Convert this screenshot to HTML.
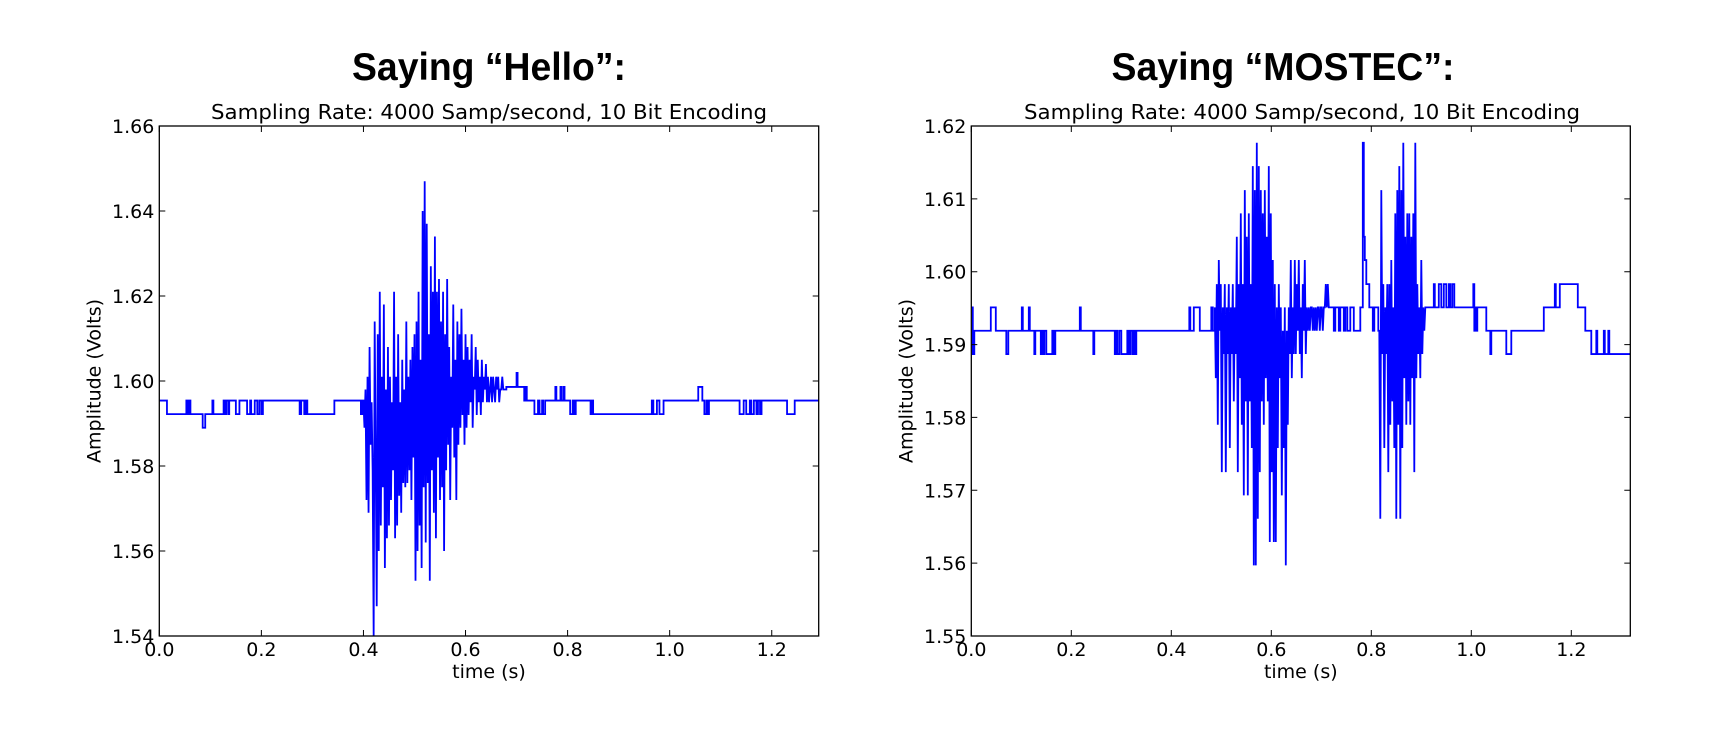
<!DOCTYPE html>
<html><head><meta charset="utf-8"><style>
html,body{margin:0;padding:0;background:#fff;}
svg{display:block;}
text{font-family:"DejaVu Sans","Liberation Sans",sans-serif;fill:#000;}
.ttl{font-family:"Liberation Sans",sans-serif;font-weight:bold;font-size:39px;}
</style></head><body>
<svg id="svg" width="1717" height="744" viewBox="0 0 1717 744" xmlns="http://www.w3.org/2000/svg">
<text class="ttl" x="489" y="80" text-anchor="middle" textLength="274" lengthAdjust="spacingAndGlyphs">Saying “Hello”:</text>
<text class="ttl" x="1283" y="80" text-anchor="middle" textLength="343" lengthAdjust="spacingAndGlyphs">Saying “MOSTEC”:</text>
<g id="c1"></g>
<g id="c2"></g>
</svg>
<script>
// ---- Hello chart data ----
const helloStepTimes = [0,0.015,0.053,0.055,0.058,0.061,0.085,0.090,0.104,0.106,0.126,0.128,0.131,0.135,0.137,0.150,0.157,0.172,0.178,0.180,0.187,0.192,0.196,0.200,0.203,0.275,0.278,0.284,0.287,0.290,0.343,0.395,0.398,
0.680,0.700,0.702,0.715,0.718,0.720,0.735,0.742,0.745,0.750,0.752,0.756,0.776,0.778,0.786,0.788,0.792,0.794,0.805,0.810,0.813,0.816,0.845,0.848,0.850,0.965,0.968,0.975,0.980,0.988,1.056,1.064,1.068,1.072,1.074,1.077,1.137,1.145,1.150,1.157,1.160,1.165,1.170,1.173,1.177,1.180,1.230,1.245];
const helloStepValues = [1.5954,1.5922,1.5954,1.5922,1.5954,1.5922,1.5890,1.5922,1.5954,1.5922,1.5954,1.5922,1.5954,1.5922,1.5954,1.5922,1.5954,1.5922,1.5954,1.5922,1.5954,1.5922,1.5954,1.5922,1.5954,1.5922,1.5954,1.5922,1.5954,1.5922,1.5954,1.5922,1.5954,
1.5986,1.6019,1.5986,1.5954,1.5986,1.5954,1.5922,1.5954,1.5922,1.5954,1.5922,1.5954,1.5986,1.5954,1.5986,1.5954,1.5986,1.5954,1.5922,1.5954,1.5922,1.5954,1.5922,1.5954,1.5922,1.5954,1.5922,1.5954,1.5922,1.5954,1.5986,1.5954,1.5922,1.5954,1.5922,1.5954,1.5922,1.5954,1.5922,1.5954,1.5922,1.5954,1.5922,1.5954,1.5922,1.5954,1.5922,1.5954];
const helloBurstStart = [0.400];
const helloBurstDt = [0.002];
const helloBurstValues = [
1.595,1.589,1.598,1.572,1.601,1.569,1.608,1.585,1.595,1.579,
1.540,1.614,1.582,1.547,1.611,1.560,1.621,1.566,1.601,1.575,
1.618,1.556,1.598,1.563,1.608,1.566,1.601,1.572,1.595,1.579,
1.621,1.563,1.601,1.566,1.611,1.573,1.595,1.569,1.605,1.576,
1.598,1.575,1.614,1.576,1.601,1.579,1.605,1.572,1.608,1.582,
1.611,1.553,1.614,1.560,1.621,1.566,1.605,1.556,1.640,1.575,
1.647,1.562,1.637,1.576,1.611,1.553,1.627,1.579,1.621,1.569,
1.634,1.563,1.621,1.582,1.624,1.572,1.614,1.575,1.621,1.560,
1.611,1.579,1.624,1.585,1.608,1.572,1.601,1.589,1.618,1.582,
1.605,1.572,1.614,1.585,1.611,1.589,1.617,1.592,1.605,1.585,
1.611,1.589,1.608,1.592,1.605,1.595,1.611,1.589,1.601,1.598,
1.608,1.592,1.605,1.595,1.601,1.592,1.605,1.595,1.601,1.598,
1.604,1.595,1.601,1.595,1.598,1.601,1.595,1.601,1.598,1.595,
1.601,1.598,1.601,1.595,1.598,1.598,1.601,1.598,1.598,1.598];
const helloXTicks = [0,0.2,0.4,0.6,0.8,1.0,1.2];
const helloXTickLabels = ["0.0","0.2","0.4","0.6","0.8","1.0","1.2"];
const helloYTicks = [1.54,1.56,1.58,1.60,1.62,1.64,1.66];
const helloYTickLabels = ["1.54","1.56","1.58","1.60","1.62","1.64","1.66"];
const helloXMax = [1.292];

// ---- MOSTEC chart data ----
const mostecStepTimes = [0,0.003,0.006,0.039,0.049,0.070,0.074,0.101,0.103,0.115,0.117,0.126,0.128,0.139,0.141,0.144,0.146,0.150,0.162,0.165,0.168,0.217,0.219,0.244,0.246,0.287,0.289,0.292,0.296,0.300,0.312,0.315,0.318,0.322,0.325,0.328,0.330,0.436,0.438,0.445,0.457,0.480,0.483,
0.718,0.725,0.728,0.735,0.738,0.745,0.748,0.752,0.758,0.765,0.778,0.783,0.785,0.787,0.790,0.796,0.803,0.806,0.814,
0.911,0.925,0.927,0.935,0.940,0.945,0.950,0.955,0.958,0.962,0.966,1.004,1.006,1.008,1.010,1.012,1.030,1.038,1.040,1.070,1.080,1.145,1.167,1.169,1.177,1.213,1.228,1.240,1.250,1.252,1.265,1.267,1.274,1.276];
const mostecStepValues = [1.5951,1.5887,1.5919,1.5951,1.5919,1.5887,1.5919,1.5951,1.5919,1.5951,1.5919,1.5887,1.5919,1.5887,1.5919,1.5887,1.5919,1.5887,1.5919,1.5887,1.5919,1.5951,1.5919,1.5887,1.5919,1.5887,1.5919,1.5887,1.5919,1.5887,1.5919,1.5887,1.5919,1.5887,1.5919,1.5887,1.5919,1.5951,1.5919,1.5951,1.5919,1.5951,1.5919,
1.5951,1.5919,1.5951,1.5919,1.5951,1.5919,1.5951,1.5919,1.5951,1.5919,1.5951,1.6177,1.6048,1.6016,1.5983,1.5951,1.5919,1.5951,1.5919,
1.5951,1.5983,1.5951,1.5983,1.5951,1.5983,1.5951,1.5983,1.5951,1.5983,1.5951,1.5983,1.5919,1.5951,1.5919,1.5951,1.5919,1.5887,1.5919,1.5887,1.5919,1.5951,1.5983,1.5951,1.5983,1.5951,1.5919,1.5887,1.5919,1.5887,1.5919,1.5887,1.5919,1.5887];
const mostecBurstStart = [0.487,0.816];
const mostecBurstDt = [0.002,0.002];
const mostecBurst1Values = [
1.5951,1.5854,1.5983,1.5790,1.6016,1.5919,1.5983,1.5725,1.5951,1.5887,
1.5983,1.5725,1.5951,1.5887,1.5983,1.5758,1.5951,1.5887,1.5983,1.5822,
1.5951,1.5887,1.6048,1.5725,1.5983,1.5854,1.6080,1.5790,1.5983,1.5693,
1.6112,1.5822,1.6048,1.5693,1.6080,1.5822,1.5983,1.5758,1.6145,1.5597,
1.6112,1.5597,1.6177,1.5661,1.6145,1.5725,1.6112,1.5822,1.6080,1.5790,
1.6112,1.5854,1.6048,1.5822,1.6145,1.5629,1.6080,1.5725,1.6016,1.5629,
1.5983,1.5629,1.5951,1.5758,1.5983,1.5854,1.5951,1.5693,1.5919,1.5758,
1.5951,1.5597,1.5919,1.5790,1.5951,1.5887,1.6016,1.5854,1.5951,1.5887,
1.6016,1.5887,1.5983,1.5919,1.6016,1.5887,1.5951,1.5854,1.5983,1.5919,
1.6016,1.5887,1.5951,1.5919,1.5951,1.5919,1.5951,1.5951,1.5919,1.5951,
1.5919,1.5951,1.5919,1.5951,1.5951,1.5919,1.5951,1.5951,1.5919,1.5951,
1.5951,1.5983,1.5951,1.5983,1.5951,1.5951];
const mostecBurst2Values = [
1.5919,1.5661,1.6112,1.5887,1.5983,1.5758,1.5951,1.5887,1.5983,1.5725,
1.5983,1.5790,1.6016,1.5822,1.5951,1.5758,1.6080,1.5661,1.6112,1.5790,
1.6145,1.5661,1.6112,1.5758,1.6177,1.5854,1.6048,1.5790,1.6080,1.5822,
1.6080,1.5790,1.6048,1.5854,1.6080,1.5725,1.6177,1.5854,1.5983,1.5887,
1.5951,1.5854,1.6016,1.5887,1.5951,1.5919,1.5951,1.5951];
const mostecXTicks = [0,0.2,0.4,0.6,0.8,1.0,1.2];
const mostecXTickLabels = ["0.0","0.2","0.4","0.6","0.8","1.0","1.2"];
const mostecYTicks = [1.55,1.56,1.57,1.58,1.59,1.60,1.61,1.62];
const mostecYTickLabels = ["1.55","1.56","1.57","1.58","1.59","1.60","1.61","1.62"];
const mostecXMax = [1.318];

const NS = "http://www.w3.org/2000/svg";
function mk(tag, parent, attrs){
  const e = document.createElementNS(NS, tag);
  for (const k in attrs) e.setAttribute(k, attrs[k]);
  parent.appendChild(e);
  return e;
}

function buildPoints(stepT, stepV, bursts, xmax){
  const pts = [];
  const ranges = bursts.map(b => [b.start, b.start + (b.vals.length-1)*b.dt]);
  function inBurst(t){ return ranges.some(r => t >= r[0] && t <= r[1]); }
  const events = [];
  for (let i=0;i<stepT.length;i++){
    if (!inBurst(stepT[i])) events.push({t:stepT[i], v:stepV[i], step:true});
  }
  bursts.forEach(b => { b.vals.forEach((v,i)=>events.push({t:b.start+i*b.dt, v:v, step:false})); });
  events.sort((a,b)=>a.t-b.t);
  let prev = null;
  events.forEach(ev => {
    if (prev !== null && (ev.step || prev.step)) pts.push([ev.t, prev.v]);
    pts.push([ev.t, ev.v]);
    prev = ev;
  });
  pts.push([xmax, prev.v]);
  return pts;
}

function drawChart(g, cfg){
  const L=cfg.left, R=cfg.right, T=126, B=636;
  const xs = t => L + (t - 0)/(cfg.xmax) * (R-L);
  const ys = v => B - (v - cfg.ymin)/(cfg.ymax-cfg.ymin) * (B-T);
  const st = mk('text', g, {x:cfg.subX, y:119, 'text-anchor':'middle', 'font-size':'20', textLength:'556', lengthAdjust:'spacingAndGlyphs'});
  
  
  st.textContent = 'Sampling Rate: 4000 Samp/second, 10 Bit Encoding';
  const pts = buildPoints(cfg.stepT, cfg.stepV, cfg.bursts, cfg.xmax);
  const pl = mk('polyline', g, {points: pts.map(p=>xs(p[0]).toFixed(2)+','+ys(p[1]).toFixed(2)).join(' '), fill:'none', stroke:'#0000ff', 'stroke-width':'1.8', 'stroke-linejoin':'miter'});
  
  
  const fr = mk('rect', g, {x:L, y:T, width:R-L, height:B-T, fill:'none', stroke:'#000', 'stroke-width':'1.3'});
  
  
  cfg.xticks.forEach((t,i)=>{
    const x = xs(t);
    const tk = mk('path', g, {d:`M${x},${B}v-6M${x},${T}v6`, stroke:'#000', 'stroke-width':'1'});
    
    
    const lb = mk('text', g, {x:x, y:656, 'text-anchor':'middle', 'font-size':'19'});
    
    
    lb.textContent = cfg.xlabels[i];
  });
  cfg.yticks.forEach((v,i)=>{
    const y = ys(v);
    const tk = mk('path', g, {d:`M${L},${y}h6M${R},${y}h-6`, stroke:'#000', 'stroke-width':'1'});
    
    
    const lb = mk('text', g, {x:L-5, y:y+7, 'text-anchor':'end', 'font-size':'19'});
    
    
    lb.textContent = cfg.ylabels[i];
  });
  const xl = mk('text', g, {x:(L+R)/2, y:678, 'text-anchor':'middle', 'font-size':'19'});
  
  
  xl.textContent = 'time (s)';
  const yl = mk('text', g, {x:0, y:0, 'text-anchor':'middle', 'font-size':'19', transform:`translate(${L-59},${(T+B)/2}) rotate(-90)`});
  
  
  yl.textContent = 'Amplitude (Volts)';
}

drawChart(document.getElementById('c1'), {
  left:159.3, right:818.7, xmax:helloXMax[0], ymin:1.54, ymax:1.66, subX:489,
  stepT:helloStepTimes, stepV:helloStepValues,
  bursts:[{start:helloBurstStart[0], dt:helloBurstDt[0], vals:helloBurstValues}],
  xticks:helloXTicks, xlabels:helloXTickLabels, yticks:helloYTicks, ylabels:helloYTickLabels
});
drawChart(document.getElementById('c2'), {
  left:971.3, right:1630.3, xmax:mostecXMax[0], ymin:1.55, ymax:1.62, subX:1302,
  stepT:mostecStepTimes, stepV:mostecStepValues,
  bursts:[{start:mostecBurstStart[0], dt:mostecBurstDt[0], vals:mostecBurst1Values},
          {start:mostecBurstStart[1], dt:mostecBurstDt[1], vals:mostecBurst2Values}],
  xticks:mostecXTicks, xlabels:mostecXTickLabels, yticks:mostecYTicks, ylabels:mostecYTickLabels
});
</script>
</body></html>
